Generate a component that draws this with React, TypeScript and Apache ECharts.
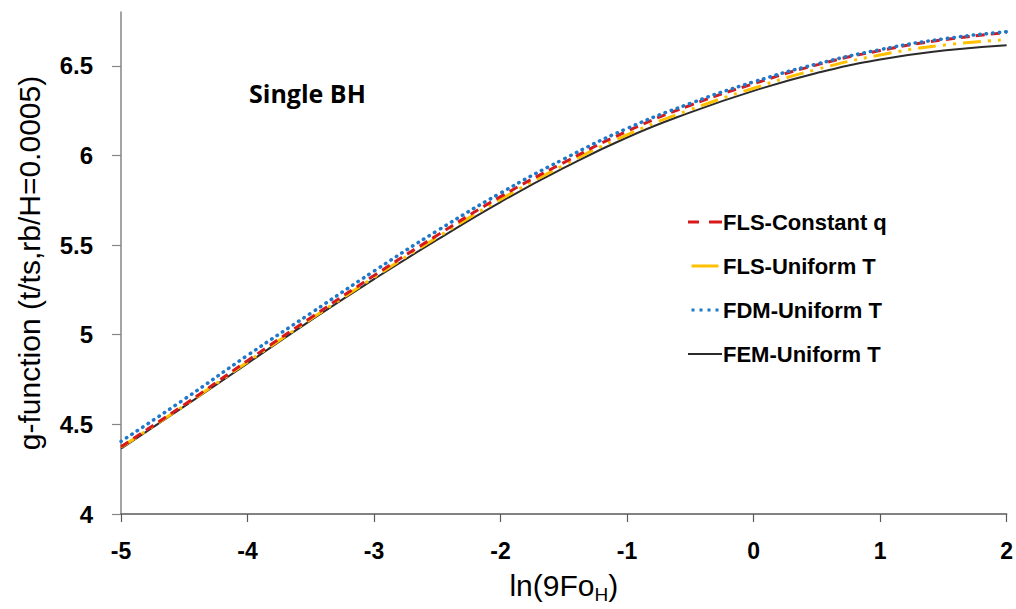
import React, { useEffect, useRef } from "react";
import * as echarts from "echarts";

const xValues = [-5, -4.5, -4, -3.5, -3, -2.5, -2, -1.5, -1, -0.5, 0, 0.5, 1, 1.5, 2];
const flsConstantQ = [4.375, 4.61, 4.855, 5.095, 5.33, 5.555, 5.77, 5.96, 6.135, 6.28, 6.4, 6.505, 6.585, 6.645, 6.685];
const flsUniformT = [4.372, 4.605, 4.848, 5.087, 5.32, 5.543, 5.755, 5.945, 6.115, 6.255, 6.375, 6.48, 6.56, 6.615, 6.645];
const fdmUniformT = [4.405, 4.64, 4.885, 5.12, 5.355, 5.58, 5.79, 5.98, 6.15, 6.29, 6.41, 6.51, 6.59, 6.65, 6.69];
const femUniformT = [4.365, 4.6, 4.84, 5.08, 5.31, 5.53, 5.74, 5.93, 6.1, 6.24, 6.36, 6.46, 6.535, 6.585, 6.615];
const seriesNames = ["FLS-Constant q", "FLS-Uniform T", "FDM-Uniform T", "FEM-Uniform T"];
const annotation = "Single BH";

const pairs = (ys: number[]) => xValues.map((x, i) => [x, ys[i]]);

const legendIcons = [
  "path://M0,0h11v3h-11z M21,0h13v3h-13z",
  "path://M0,0h27v3h-27z",
  "path://M0,0h3v3h-3z M8,0h3v3h-3z M16,0h3v3h-3z M24,0h3v3h-3z",
  "path://M0,0h34v2h-34z",
];

export default function App() {
  const ref = useRef<HTMLDivElement>(null);
  useEffect(() => {
    document.body.style.margin = "0";
    const chart = echarts.init(ref.current!, null, { renderer: "svg" });
    const font = "'Liberation Sans', Arial, sans-serif";
    chart.setOption({
      animation: false,
      backgroundColor: "#ffffff",
      grid: { left: 121, right: 9, top: 12, bottom: 87, containLabel: false },
      xAxis: {
        type: "value",
        min: -5,
        max: 2,
        interval: 1,
        name: "{a|ln(9Fo}{s|H}{a|)}",
        nameLocation: "middle",
        nameGap: 53,
        nameTextStyle: {
          rich: {
            a: { fontFamily: font, fontSize: 30, color: "#000" },
            s: { fontFamily: font, fontSize: 19, color: "#000", verticalAlign: "bottom", padding: [18, 0, 0, 0] },
          },
        },
        axisLine: { onZero: false, lineStyle: { color: "#595959", width: 1.5 } },
        axisTick: { show: true, inside: false, length: 8, lineStyle: { color: "#595959", width: 1.2 } },
        axisLabel: { fontFamily: font, fontSize: 23, fontWeight: "bold", color: "#000", margin: 25 },
        splitLine: { show: false },
      },
      yAxis: {
        type: "value",
        min: 4,
        max: 6.8,
        interval: 0.5,
        name: "g-function (t/ts,rb/H=0.0005)",
        nameLocation: "middle",
        nameGap: 77,
        nameTextStyle: { fontFamily: font, fontSize: 30, color: "#000" },
        axisLine: { show: true, onZero: false, lineStyle: { color: "#868686", width: 1.5 } },
        axisTick: { show: true, length: 9, lineStyle: { color: "#868686", width: 1.2 } },
        axisLabel: { fontFamily: font, fontSize: 24, fontWeight: "bold", color: "#000", margin: 28, showMaxLabel: false },
        splitLine: { show: false },
      },
      legend: {
        orient: "vertical",
        left: 683,
        top: 206,
        itemGap: 22,
        itemWidth: 34,
        itemHeight: 3,
        textStyle: { fontFamily: font, fontSize: 22, fontWeight: "bold", color: "#000", padding: [0, 0, 0, -4] },
        data: seriesNames.map((name, i) => ({ name, icon: legendIcons[i] })),
      },
      graphic: [
        {
          type: "text",
          left: 249,
          top: 80,
          style: { text: annotation, font: "bold 25px 'Open Sans', sans-serif", fill: "#000" },
        },
      ],
      series: [
        {
          name: seriesNames[3],
          type: "line",
          data: pairs(femUniformT),
          smooth: true,
          symbol: "none",
          lineStyle: { color: "#2b2b2b", width: 2 },
          itemStyle: { color: "#2b2b2b" },
          z: 2,
        },
        {
          name: seriesNames[1],
          type: "line",
          data: pairs(flsUniformT),
          smooth: true,
          symbol: "none",
          lineStyle: { color: "#ffc000", width: 3, type: [18, 7, 3, 7, 3, 7] },
          itemStyle: { color: "#ffc000" },
          z: 3,
        },
        {
          name: seriesNames[0],
          type: "line",
          data: pairs(flsConstantQ),
          smooth: true,
          symbol: "none",
          lineStyle: { color: "#d7191c", width: 3, type: [9, 6] },
          itemStyle: { color: "#d7191c" },
          z: 4,
        },
        {
          name: seriesNames[2],
          type: "line",
          data: pairs(fdmUniformT),
          smooth: true,
          symbol: "none",
          lineStyle: { color: "#1f78c8", width: 3.5, type: [0.5, 6], cap: "round" },
          itemStyle: { color: "#1f78c8" },
          z: 5,
        },
      ],
    });
    return () => chart.dispose();
  }, []);
  return <div ref={ref} style={{ width: 1016, height: 609 }} />;
}
